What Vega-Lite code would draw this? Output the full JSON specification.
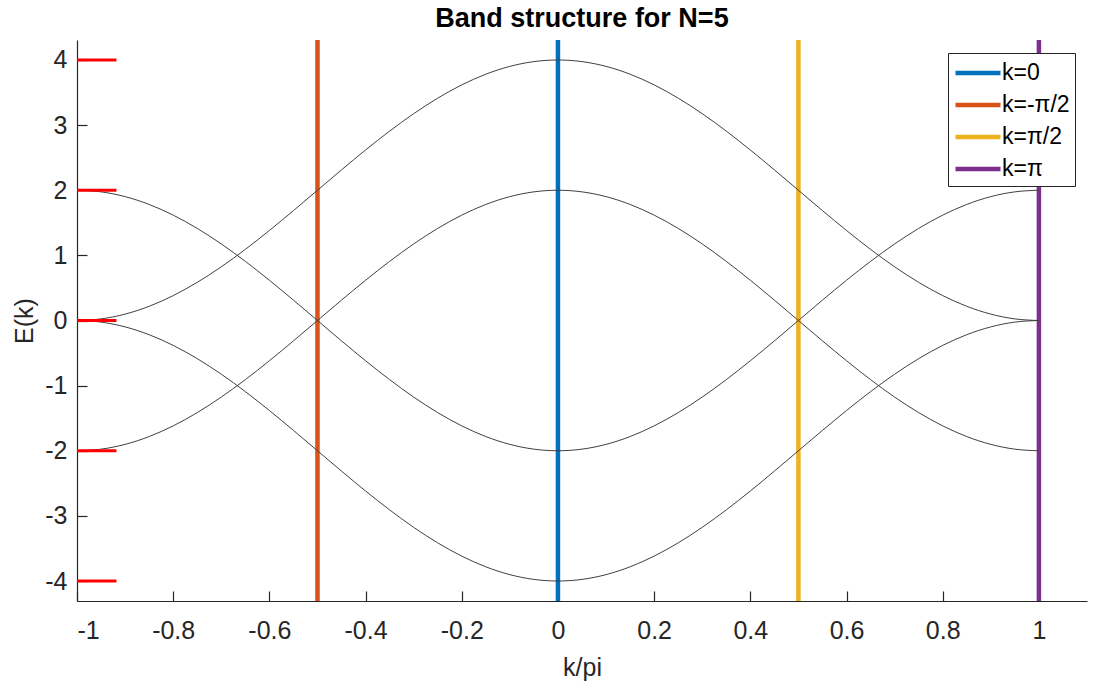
{
  "$schema": "https://vega.github.io/schema/vega-lite/v6.json",
  "autosize": "none",
  "width": 1010,
  "height": 561,
  "padding": {"left": 77, "top": 40, "right": 9, "bottom": 85},
  "background": "white",
  "title": {
    "text": "Band structure for N=5",
    "font": "Liberation Sans",
    "fontSize": 27,
    "fontWeight": "bold",
    "color": "black",
    "anchor": "middle",
    "frame": "group",
    "offset": 5
  },
  "config": {
    "view": {"stroke": null},
    "axis": {
      "grid": false,
      "domainColor": "#262626",
      "domainWidth": 1.2,
      "tickColor": "#262626",
      "tickWidth": 1.2,
      "labelFont": "Liberation Sans",
      "labelFontSize": 25,
      "labelColor": "#262626",
      "titleFont": "Liberation Sans",
      "titleFontSize": 25,
      "titleFontWeight": "normal",
      "titleColor": "#262626"
    }
  },
  "resolve": {"scale": {"x": "shared", "y": "shared"}, "axis": {"x": "independent", "y": "independent"}},
  "datasets": {
    "bands": [
      {"k": -1, "a": 0, "b": 0, "c": 2, "d": -2},
      {"k": -0.95, "a": 0.0246, "b": -0.0246, "c": 1.9754, "d": -1.9754},
      {"k": -0.9, "a": 0.0979, "b": -0.0979, "c": 1.9021, "d": -1.9021},
      {"k": -0.85, "a": 0.218, "b": -0.218, "c": 1.782, "d": -1.782},
      {"k": -0.8, "a": 0.382, "b": -0.382, "c": 1.618, "d": -1.618},
      {"k": -0.75, "a": 0.5858, "b": -0.5858, "c": 1.4142, "d": -1.4142},
      {"k": -0.7, "a": 0.8244, "b": -0.8244, "c": 1.1756, "d": -1.1756},
      {"k": -0.65, "a": 1.092, "b": -1.092, "c": 0.908, "d": -0.908},
      {"k": -0.6, "a": 1.382, "b": -1.382, "c": 0.618, "d": -0.618},
      {"k": -0.55, "a": 1.6871, "b": -1.6871, "c": 0.3129, "d": -0.3129},
      {"k": -0.5, "a": 2, "b": -2, "c": 0, "d": 0},
      {"k": -0.45, "a": 2.3129, "b": -2.3129, "c": -0.3129, "d": 0.3129},
      {"k": -0.4, "a": 2.618, "b": -2.618, "c": -0.618, "d": 0.618},
      {"k": -0.35, "a": 2.908, "b": -2.908, "c": -0.908, "d": 0.908},
      {"k": -0.3, "a": 3.1756, "b": -3.1756, "c": -1.1756, "d": 1.1756},
      {"k": -0.25, "a": 3.4142, "b": -3.4142, "c": -1.4142, "d": 1.4142},
      {"k": -0.2, "a": 3.618, "b": -3.618, "c": -1.618, "d": 1.618},
      {"k": -0.15, "a": 3.782, "b": -3.782, "c": -1.782, "d": 1.782},
      {"k": -0.1, "a": 3.9021, "b": -3.9021, "c": -1.9021, "d": 1.9021},
      {"k": -0.05, "a": 3.9754, "b": -3.9754, "c": -1.9754, "d": 1.9754},
      {"k": 0, "a": 4, "b": -4, "c": -2, "d": 2},
      {"k": 0.05, "a": 3.9754, "b": -3.9754, "c": -1.9754, "d": 1.9754},
      {"k": 0.1, "a": 3.9021, "b": -3.9021, "c": -1.9021, "d": 1.9021},
      {"k": 0.15, "a": 3.782, "b": -3.782, "c": -1.782, "d": 1.782},
      {"k": 0.2, "a": 3.618, "b": -3.618, "c": -1.618, "d": 1.618},
      {"k": 0.25, "a": 3.4142, "b": -3.4142, "c": -1.4142, "d": 1.4142},
      {"k": 0.3, "a": 3.1756, "b": -3.1756, "c": -1.1756, "d": 1.1756},
      {"k": 0.35, "a": 2.908, "b": -2.908, "c": -0.908, "d": 0.908},
      {"k": 0.4, "a": 2.618, "b": -2.618, "c": -0.618, "d": 0.618},
      {"k": 0.45, "a": 2.3129, "b": -2.3129, "c": -0.3129, "d": 0.3129},
      {"k": 0.5, "a": 2, "b": -2, "c": 0, "d": 0},
      {"k": 0.55, "a": 1.6871, "b": -1.6871, "c": 0.3129, "d": -0.3129},
      {"k": 0.6, "a": 1.382, "b": -1.382, "c": 0.618, "d": -0.618},
      {"k": 0.65, "a": 1.092, "b": -1.092, "c": 0.908, "d": -0.908},
      {"k": 0.7, "a": 0.8244, "b": -0.8244, "c": 1.1756, "d": -1.1756},
      {"k": 0.75, "a": 0.5858, "b": -0.5858, "c": 1.4142, "d": -1.4142},
      {"k": 0.8, "a": 0.382, "b": -0.382, "c": 1.618, "d": -1.618},
      {"k": 0.85, "a": 0.218, "b": -0.218, "c": 1.782, "d": -1.782},
      {"k": 0.9, "a": 0.0979, "b": -0.0979, "c": 1.9021, "d": -1.9021},
      {"k": 0.95, "a": 0.0246, "b": -0.0246, "c": 1.9754, "d": -1.9754},
      {"k": 1, "a": 0, "b": 0, "c": 2, "d": -2}
    ],
    "vlines": [
      {"k": 0, "label": "k=0"},
      {"k": -0.5, "label": "k=-π/2"},
      {"k": 0.5, "label": "k=π/2"},
      {"k": 1, "label": "k=π"}
    ],
    "levels": [
      {"x1": -1, "x2": -0.918, "E": 4},
      {"x1": -1, "x2": -0.918, "E": 2},
      {"x1": -1, "x2": -0.918, "E": 0},
      {"x1": -1, "x2": -0.918, "E": -2},
      {"x1": -1, "x2": -0.918, "E": -4}
    ]
  },
  "layer": [
    {
      "data": {"name": "vlines"},
      "mark": {"type": "rule", "strokeWidth": 4.5},
      "encoding": {
        "x": {
          "field": "k",
          "type": "quantitative",
          "scale": {"domain": [-1, 1.1], "nice": false, "zero": false},
          "axis": {
            "orient": "bottom",
            "title": "k/pi",
            "values": [-1, -0.8, -0.6, -0.4, -0.2, 0, 0.2, 0.4, 0.6, 0.8, 1],
            "labelExpr": "'' + datum.value",
            "ticks": false,
            "labelPadding": 17,
            "titleY": 54
          }
        },
        "color": {
          "field": "label",
          "type": "nominal",
          "scale": {
            "domain": ["k=0", "k=-π/2", "k=π/2", "k=π"],
            "range": ["#0072BD", "#D95319", "#EDB120", "#7E2F8E"]
          },
          "legend": {
            "title": null,
            "orient": "none",
            "legendX": 871,
            "legendY": 13,
            "symbolType": "M-1.8,0H1.8",
            "symbolSize": 625,
            "symbolStrokeWidth": 4.5,
            "symbolOffset": 10,
            "labelFont": "Liberation Sans",
            "labelFontSize": 23,
            "labelColor": "black",
            "labelOffset": 9,
            "strokeColor": "#262626",
            "fillColor": "white",
            "padding": 5,
            "rowPadding": 5
          }
        }
      }
    },
    {
      "data": {"name": "bands"},
      "transform": [{"fold": ["a", "b", "c", "d"], "as": ["band", "E"]}],
      "mark": {"type": "line", "stroke": "#404040", "strokeWidth": 1, "interpolate": "monotone"},
      "encoding": {
        "x": {
          "field": "k",
          "type": "quantitative",
          "axis": {
            "orient": "bottom",
            "title": null,
            "values": [-1, -0.8, -0.6, -0.4, -0.2, 0, 0.2, 0.4, 0.6, 0.8, 1],
            "labels": false,
            "domain": false,
            "tickSize": 10,
            "offset": -10
          }
        },
        "y": {
          "field": "E",
          "type": "quantitative",
          "scale": {"domain": [-4.307, 4.307], "nice": false, "zero": false},
          "axis": {
            "orient": "left",
            "title": "E(k)",
            "values": [-4, -3, -2, -1, 0, 1, 2, 3, 4],
            "labelExpr": "'' + datum.value",
            "ticks": false,
            "labelPadding": 10,
            "titleX": -40
          }
        },
        "detail": {"field": "band"}
      }
    },
    {
      "data": {"name": "levels"},
      "mark": {"type": "rule", "stroke": "#FF0000", "strokeWidth": 3},
      "encoding": {
        "x": {"field": "x1", "type": "quantitative", "axis": null},
        "x2": {"field": "x2"},
        "y": {
          "field": "E",
          "type": "quantitative",
          "axis": {
            "orient": "left",
            "title": null,
            "values": [-4, -3, -2, -1, 0, 1, 2, 3, 4],
            "labels": false,
            "domain": false,
            "tickSize": 10,
            "offset": -10
          }
        }
      }
    }
  ]
}
